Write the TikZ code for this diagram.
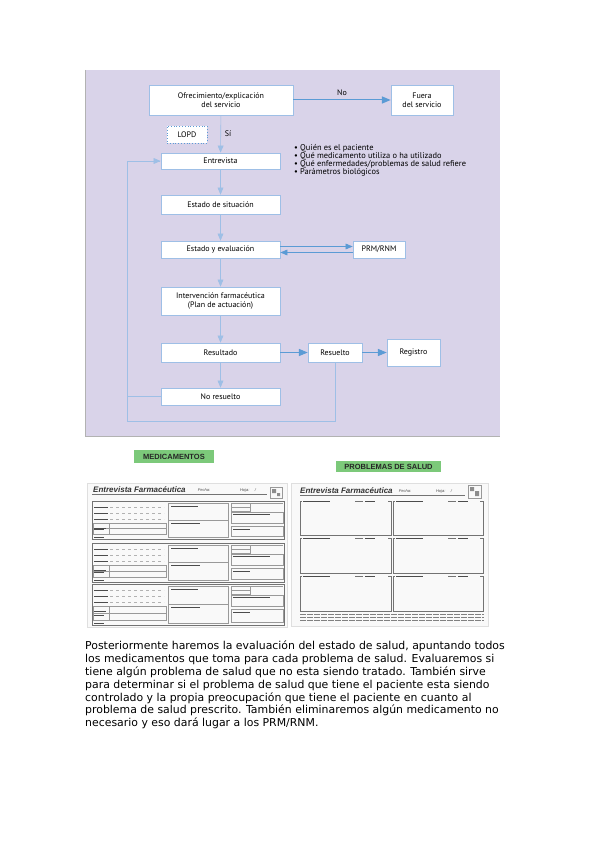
\documentclass[tikz,border=0pt]{standalone}
\usepackage{fontspec}
\setmainfont{DejaVu Sans}
\newfontfamily\flujo{PT Sans}
\newfontfamily\etiq{Liberation Sans}
\usetikzlibrary{shapes}
\usetikzlibrary{arrows}
\definecolor{lila}{HTML}{D9D3E9}
\definecolor{azul}{HTML}{5B9BD5}
\definecolor{azulclaro}{HTML}{9EBFE6}
\definecolor{verde}{HTML}{7CC97A}
\tikzset{
	caja/.style = {rectangle, draw=azulclaro, fill=white, align=center,
		inner sep=0pt, line width=0.8pt, font=\flujo\fontsize{8}{9}\selectfont},
	caja_c/.style = {caja, minimum width=119pt},% caja de la columna central
	caja_p/.style = {caja, draw=azul, dotted, line width=0.6pt},% caja punteada
	enlace/.style = {->, draw=azulclaro, line width=0.6pt},% flecha vertical
	flecha/.style = {->, draw=azul, line width=1pt},% flecha horizontal
	rotulo/.style = {font=\etiq\bfseries\fontsize{7.5}{8}\selectfont, fill=verde,
		inner sep=0pt, text=black!85},% rotulo verde
	hoja/.style = {fill=gray!5, draw=gray!25},% fondo del formulario
	marco/.style = {draw=black!55, line width=0.7pt},
	fino/.style = {draw=black!40, line width=0.4pt},
	rasgo/.style = {draw=black!70, line width=1pt},% texto ilegible del escaneo
	renglon/.style = {draw=black!30, line width=0.4pt, dashed}
}
\begin{document}
\begin{tikzpicture}[x=1pt,y=-1pt,>=triangle 45]
	\useasboundingbox (0,0) rectangle (599,848);
	% fondo del diagrama
	\fill[lila] (85,70) rectangle (500,436);
	\draw[gray!60] (85,70) -- (85,436) -- (500,436);
	% nodos del flujo
	\node[caja, minimum width=144pt, minimum height=30pt] (ofre) at (221,100)
		{Ofrecimiento/explicación\\del servicio};
	\node[caja, minimum width=62pt, minimum height=30pt] (fuera) at (422,100)
		{Fuera\\del servicio};
	\node[caja_p, minimum width=40pt, minimum height=17pt] (lopd) at (187,134.5) {LOPD};
	\node[caja_c, minimum height=16pt] (entre) at (220.5,161) {Entrevista};
	\node[caja_c, minimum height=19pt] (situ) at (220.5,204.5) {Estado de situación};
	\node[caja_c, minimum height=17pt] (eval) at (220.5,249.5) {Estado y evaluación};
	\node[caja, minimum width=52pt, minimum height=17pt] (prm) at (379,249.5) {PRM/RNM};
	\node[caja_c, minimum height=28pt] (interv) at (220.5,301)
		{Intervención farmacéutica\\(Plan de actuación)};
	\node[caja_c, minimum height=19pt] (result) at (220.5,352.5) {Resultado};
	\node[caja, minimum width=54pt, minimum height=19pt] (resuelto) at (335,352.5) {Resuelto};
	\node[caja, minimum width=53pt, minimum height=27pt] (registro) at (413.5,352.5) {Registro};
	\node[caja_c, minimum height=17pt] (noresu) at (220.5,396.5) {No resuelto};
	\node[font=\flujo\fontsize{8}{9}\selectfont] (no) at (342,93) {No};
	\node[font=\flujo\fontsize{8}{9}\selectfont] (si) at (228,134) {Sí};
	\node[anchor=north west, align=left, inner sep=0pt,
		font=\flujo\fontsize{8.4}{7.8}\selectfont] (lista) at (294,144.5)
		{\textbullet\ Quién es el paciente\\
		 \textbullet\ Qué medicamento utiliza o ha utilizado\\
		 \textbullet\ Qué enfermedades/problemas de salud refiere\\
		 \textbullet\ Parámetros biológicos};
	\coordinate (esq) at (127,421);
	% conexiones
	\draw[flecha] (ofre) -- (fuera);
	\draw[enlace] (ofre) -- (entre);
	\draw[enlace] (entre) -- (situ);
	\draw[enlace] (situ) -- (eval);
	\draw[enlace] (eval) -- (interv);
	\draw[enlace] (interv) -- (result);
	\draw[enlace] (result) -- (noresu);
	\draw[->, azul, line width=0.6pt] ([yshift=3pt]eval.east) -- ([yshift=3pt]prm.west);
	\draw[->, azul, line width=0.6pt] ([yshift=-3pt]prm.west) -- ([yshift=-3pt]eval.east);
	\draw[flecha] (result) -- (resuelto);
	\draw[flecha] (resuelto) -- (registro);
	\draw[enlace] (resuelto.south) |- (esq) |- (entre.west);
	\draw[azulclaro, line width=0.6pt] (noresu.west) -- (noresu.west -| esq);
	% rotulos verdes
	\node[rotulo, minimum width=80pt, minimum height=13pt] (medic) at (174,456.5) {MEDICAMENTOS};
	\node[rotulo, minimum width=105pt, minimum height=11pt] (probl) at (388.5,466.5) {PROBLEMAS DE SALUD};
	% formulario de medicamentos
	\fill[hoja] (87,483) rectangle (287,627);
	\node[anchor=west, inner sep=0pt, font=\etiq\bfseries\itshape\fontsize{8}{8}\selectfont,
		text=black!80] (tit1) at (93,490) {Entrevista Farmacéutica};
	\node[inner sep=0pt, font=\etiq\itshape\fontsize{4}{4}\selectfont, text=black!70] (fec1) at (204,490) {Fecha:};
	\node[inner sep=0pt, font=\etiq\itshape\fontsize{4}{4}\selectfont, text=black!70] (hoj1) at (248,490) {Hoja: \quad /};
	\draw[marco] (92,494) -- (267,494);
	\draw[fino] (270,487) rectangle (282,498);
	\fill[black!45] (272,489) rectangle (276,493) (277,493) rectangle (280,496);
	\foreach \t/\b in {501/539, 543/582, 584/625} {
		\draw[marco] (92,\t) rectangle (284,\b);
		\foreach \k in {6,12,18} {
			\draw[rasgo] (94,\t+\k) -- (108,\t+\k);
			\draw[renglon] (110,\t+\k) -- (164,\t+\k);
		}
		\draw[fino] (93,\t+22) rectangle (166,\b-5);
		\draw[fino] (93,\t/2+\b/2+8.5) -- (166,\t/2+\b/2+8.5);
		\draw[fino] (109,\t+22) -- (109,\b-5);
		\draw[rasgo] (94,\t+27) -- (106,\t+27);
		\draw[rasgo] (94,\b-10) -- (104,\b-10);
		\draw[rasgo] (94,\b-2) -- (104,\b-2);
		\draw[fino] (168,\t+2) rectangle (228,\b-2);
		\draw[fino] (168,\t/2+\b/2) -- (228,\t/2+\b/2);
		\draw[rasgo, line width=0.6pt] (171,\t+5) -- (198,\t+5);
		\draw[rasgo, line width=0.6pt] (171,\t/2+\b/2+3) -- (200,\t/2+\b/2+3);
		\draw[fino] (231,\t+2) rectangle (250,\t+6);
		\draw[fino] (231,\t+6) rectangle (250,\t+10);
		\draw[fino] (250,\t+2) -- (283,\t+2);
		\draw[fino] (231,\t+11) rectangle (283,\t+22);
		\draw[rasgo, line width=0.6pt] (233,\t+13) -- (270,\t+13);
		\draw[fino] (231,\t+25) rectangle (283,\b-3);
		\draw[rasgo, line width=0.6pt] (233,\t+28) -- (250,\t+28);
	}
	% formulario de problemas de salud
	\fill[hoja] (291,483) rectangle (488,626);
	\node[anchor=west, inner sep=0pt, font=\etiq\bfseries\itshape\fontsize{8}{8}\selectfont,
		text=black!80] (tit2) at (300,491) {Entrevista Farmacéutica};
	\node[inner sep=0pt, font=\etiq\itshape\fontsize{4}{4}\selectfont, text=black!70] (fec2) at (405,491) {Fecha:};
	\node[inner sep=0pt, font=\etiq\itshape\fontsize{4}{4}\selectfont, text=black!70] (hoj2) at (444,491) {Hoja: \quad /};
	\draw[marco] (300,495) -- (465,495);
	\draw[fino] (468,485) rectangle (481,498);
	\fill[black!45] (470,487) rectangle (474,491) (475,491) rectangle (479,496);
	\foreach \x/\w in {300/391, 393/483} {
		\foreach \t/\b in {501/535, 538/573, 576/611} {
			\draw[marco] (\x,\t) -- (\x,\b) -- (\w,\b) -- (\w,\t) -- (\w-3,\t);
			\draw[marco] (\x,\t) -- (\x+2,\t);
			\draw[rasgo, line width=0.6pt] (\x+3,\t) -- (\x+30,\t);
			\draw[marco] (\x+55,\t) -- (\x+63,\t);
			\draw[rasgo, line width=0.6pt] (\x+65,\t) -- (\x+75,\t);
		}
	}
	\foreach \y in {614,617,620}
		\draw[draw=black!50, line width=0.7pt, dash pattern=on 6pt off 1pt] (300,\y) -- (484,\y);
	% texto
	\node[anchor=north west, align=left, inner sep=0pt,
		font=\fontsize{10.9}{12.8}\selectfont] (texto) at (85,641)
		{Posteriormente haremos la evaluación del estado de salud, apuntando todos\\
		los medicamentos que toma para cada problema de salud. Evaluaremos si\\
		tiene algún problema de salud que no esta siendo tratado. También sirve\\
		para determinar si el problema de salud que tiene el paciente esta siendo\\
		controlado y la propia preocupación que tiene el paciente en cuanto al\\
		problema de salud prescrito. También eliminaremos algún medicamento no\\
		necesario y eso dará lugar a los PRM/RNM.};
\end{tikzpicture}
\end{document}
